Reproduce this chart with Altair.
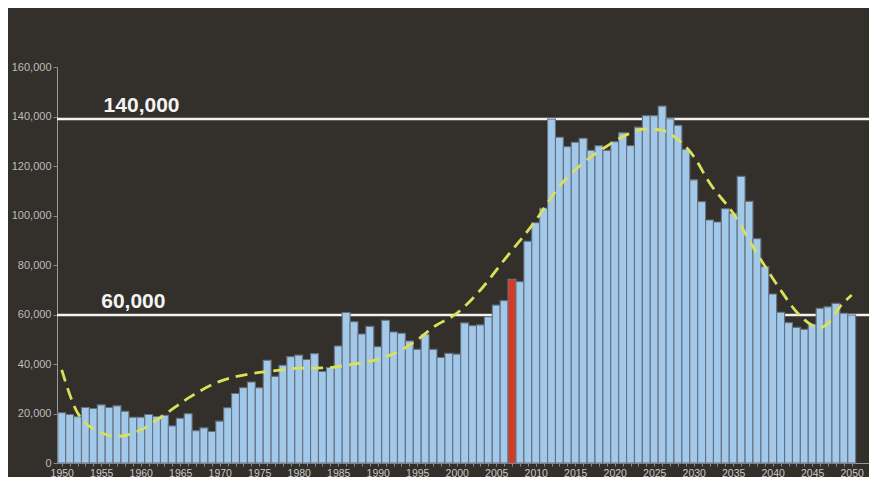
import altair as alt
import pandas as pd

years = list(range(1950, 2051))
values = [
    20300, 19600, 18700, 22400, 22000, 23500, 22400, 23100, 20900, 18500,  # 1950-1959
    18500, 19600, 18800, 19300, 15000, 18100, 19900, 13100, 14200, 12700,  # 1960-1969
    16900, 22300, 28100, 30400, 32700, 30400, 41500, 35000, 39500, 43000,  # 1970-1979
    43600, 41800, 44200, 37000, 38600, 47300, 60800, 57100, 52100, 55200,  # 1980-1989
    47000, 57700, 52900, 52400, 49300, 45900, 52000, 45900, 42600, 44300,  # 1990-1999
    44000, 56600, 55500, 55800, 59100, 63800, 65600, 74200, 73300, 89600,  # 2000-2009
    97100, 102900, 139000, 131600, 127800, 129600, 131200, 126300, 128200, 126300,  # 2010-2019
    129800, 133400, 128200, 135700, 140300, 140300, 144200, 139100, 136400, 126700,  # 2020-2029
    114400, 105600, 98200, 97400, 102700, 100900, 115800, 105700, 90600, 79300,  # 2030-2039
    68300, 60900, 56700, 54800, 54000, 56000, 62500, 63100, 64500, 60500,  # 2040-2049
    59800,  # 2050
]
highlight_year = 2007

trend_years = [1950, 1952, 1955, 1957, 1960, 1963, 1966, 1970, 1974, 1977, 1980, 1983,
               1987, 1990, 1993, 1995, 1997, 2000, 2003, 2006, 2010, 2013, 2016, 2019,
               2022, 2024, 2026, 2028, 2030, 2032, 2035, 2038, 2041, 2043, 2045, 2046,
               2047, 2048.5, 2050]
trend_values = [37600, 20300, 12200, 10700, 13400, 19500, 26200, 33000, 36100, 37300, 38300, 38400,
                40000, 41900, 45700, 49700, 54800, 60500, 69900, 82000, 98000, 111800, 121200, 128000,
                133300, 135000, 134400, 130700, 123900, 113200, 100900, 84700, 69900, 61100, 55700, 54700,
                56400, 63100, 67900]

ref_values = [139000, 59800]
ref_labels = ["140,000", "60,000"]
ref_label_x = [1955.3, 1955.0]

y_ticks = [0, 20000, 40000, 60000, 80000, 100000, 120000, 140000, 160000]

bars = pd.DataFrame({"year": years, "value": values})
bars["hl"] = ["red" if y == highlight_year else "blue" for y in years]
trend = pd.DataFrame({"year": trend_years, "value": trend_values})
refs = pd.DataFrame({"value": ref_values, "label": ref_labels, "lx": ref_label_x})

W, H = 812, 396
x_scale = alt.Scale(domain=[1949.4, 2052.19], nice=False, zero=False)
y_scale = alt.Scale(domain=[0, 160000], nice=False)

x_axis = alt.Axis(
    values=years, format="d", title=None,
    labelExpr="datum.value % 5 == 0 ? datum.label : ''",
    labelColor="#c9c9c9", labelFontSize=10.5, labelFont="Liberation Sans",
    labelPadding=2, tickSize=3, tickColor="#8a8a8a", domainColor="#9a9a9a",
    domainWidth=1, grid=False, labelOverlap=False, labelFlush=False,
)
y_axis = alt.Axis(
    values=y_ticks, format=",d", title=None,
    labelColor="#bdbdbd", labelFontSize=11, labelFont="Liberation Sans",
    labelPadding=2, tickSize=4, tickColor="#8a8a8a", domainColor="#9a9a9a",
    domainWidth=1, grid=False, labelOverlap=False,
)

rules = alt.Chart(refs).mark_rule(color="#f2f2f2", strokeWidth=2.6).encode(
    y=alt.Y("value:Q", scale=y_scale, axis=y_axis),
    x=alt.value(0),
    x2=alt.value(W),
)

ref_text = alt.Chart(refs).mark_text(
    color="#f4f4f4", fontSize=21, fontWeight="bold", font="Liberation Sans",
    align="left", baseline="alphabetic", dy=-7,
).encode(
    x=alt.X("lx:Q", scale=x_scale, axis=x_axis),
    y=alt.Y("value:Q", scale=y_scale, axis=y_axis),
    text="label:N",
)

bar_layer = alt.Chart(bars).transform_calculate(
    x0="datum.year - 0.5", x1="datum.year + 0.5"
).mark_bar(stroke="#66717f", strokeWidth=1.1, opacity=1).encode(
    x=alt.X("x0:Q", scale=x_scale, axis=x_axis),
    x2="x1:Q",
    y=alt.Y("value:Q", scale=y_scale, axis=y_axis),
    y2=alt.datum(0),
    color=alt.Color("hl:N", scale=alt.Scale(domain=["blue", "red"], range=["#a2c8ea", "#d63a22"]), legend=None),
)

trend_line = alt.Chart(trend).mark_line(
    color="#d9e05a", strokeWidth=2.8, strokeDash=[12, 7], interpolate="monotone",
).encode(
    x=alt.X("year:Q", scale=x_scale, axis=x_axis),
    y=alt.Y("value:Q", scale=y_scale, axis=y_axis),
)

chart = alt.layer(rules, ref_text, bar_layer, trend_line).properties(
    width=W, height=H,
    background="#332f2a",
    padding={"left": 49, "top": 59, "right": 0, "bottom": 14},
    autosize=alt.AutoSizeParams(type="none"),
).configure_view(stroke=None, fill="#332f2a")

chart.save("out.html", embed_options={"renderer": "svg", "actions": False})
